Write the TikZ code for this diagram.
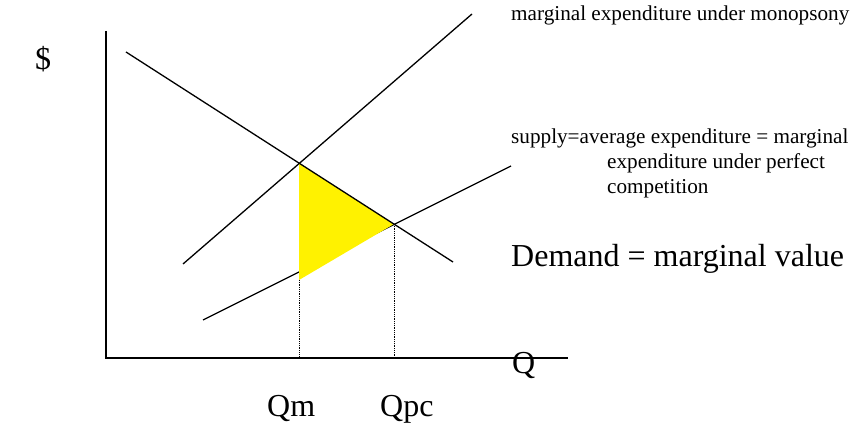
\documentclass[tikz,border=0pt]{standalone}
\usepackage{fontspec}
\setmainfont{Liberation Serif}
\begin{document}
\begin{tikzpicture}[x=1pt,y=-1pt,
  curve/.style={line width=1.3pt},
  axis/.style={line width=1.4pt},
  guide/.style={densely dotted,line width=0.8pt},
  small/.style={font=\fontsize{21.2}{25}\selectfont, inner sep=0pt, anchor=base west},
  big/.style={font=\fontsize{32}{36}\selectfont, inner sep=0pt, anchor=base west}]
\useasboundingbox (0,0) rectangle (855,427);
% axes
\coordinate (o) at (106,358);
\coordinate (ytop) at (106,31);
\coordinate (xend) at (568,358);
% curves
\coordinate (d1) at (126,52);
\coordinate (d2) at (453,262);
\coordinate (m1) at (183,264);
\coordinate (m2) at (472,14);
\coordinate (s1) at (203,320);
\coordinate (s2) at (511,166);
\coordinate (A) at (299,163);
\coordinate (B) at (394,224);
\coordinate (C) at (299,280);
\coordinate (Am) at (299,358);
\coordinate (Bm) at (394,358);
\draw[axis] (ytop) -- (o) -- (xend);
\draw[curve] (m1) -- (m2);
\draw[curve] (s1) -- (s2);
\fill[yellow] (A) -- (B) -- (C) -- cycle;
\draw[curve] (d1) -- (d2);
\draw[guide] (C) -- (Am);
\draw[guide] (B) -- (Bm);
% labels
\node[big] (dollar) at (35,70) {\$};
\node[big] (q) at (512,374) {Q};
\node[big] (qm) at (267,417) {Qm};
\node[big] (qpc) at (380,417) {Qpc};
\node[big] (dem) at (511,267) {Demand = marginal value};
\node[small] (me) at (511,21) {marginal expenditure under monopsony};
\node[small] (sup1) at (511,144) {supply=average expenditure = marginal};
\node[small] (sup2) at (607,169) {expenditure under perfect};
\node[small] (sup3) at (607,194) {competition};
\end{tikzpicture}
\end{document}
